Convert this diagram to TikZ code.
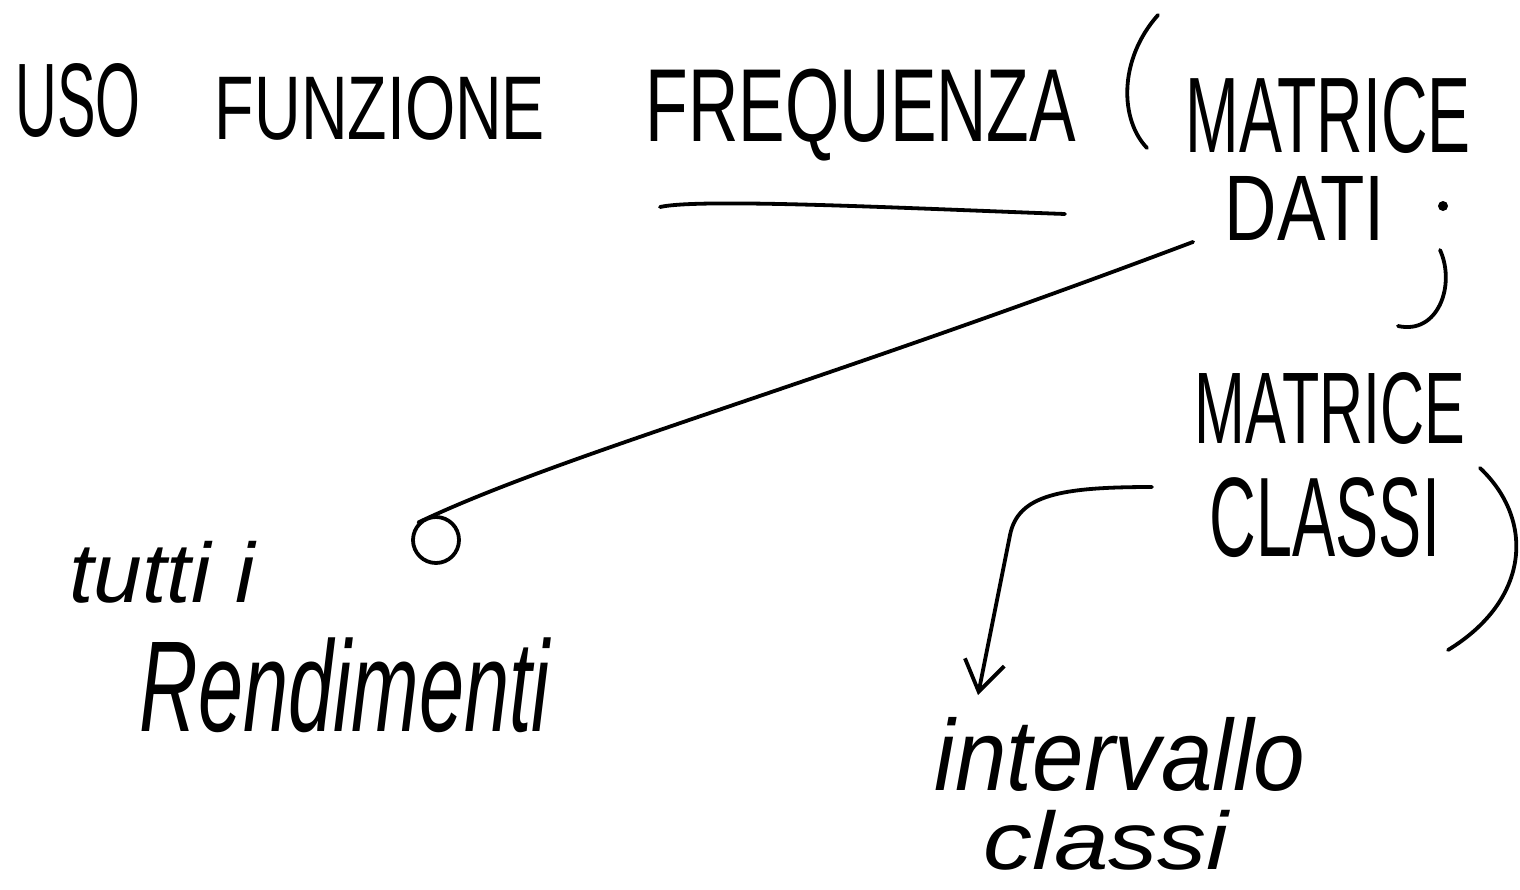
\documentclass[tikz,border=0pt]{standalone}
\usepackage{fontspec}
\setmainfont{Liberation Sans}
\usepackage{graphicx}
\usetikzlibrary{arrows.meta}
\newcommand{\mano}[3]{\resizebox*{#1}{#2}{#3}}

\begin{document}
\begin{tikzpicture}[line width=3.8pt, line cap=round, line join=round,
    every node/.style={inner sep=0pt}]
    \useasboundingbox (0pt,0pt) rectangle (1520pt,-889pt);
    \node (uso) at (78pt,-101pt) {\mano{125pt}{74pt}{USO}};
    \node (funzione) at (380pt,-108pt) {\mano{330pt}{64pt}{FUNZIONE}};
    \node (frequenza) at (861pt,-115pt) {\mano{430pt}{92pt}{FREQUENZA}};
    \draw (1158pt,-15pt) .. controls (1118pt,-60pt) and (1120pt,-120pt) .. (1147pt,-148pt);
    \node (matrice) at (1328pt,-116pt) {\mano{285pt}{76pt}{MATRICE}};
    \draw (660pt,-207pt) .. controls (700pt,-198pt) and (900pt,-208pt) .. (1065pt,-214pt);
    \node (dati) at (1305pt,-208pt) {\mano{160pt}{64pt}{DATI}};
    \fill (1443pt,-206pt) circle (5pt);
    \draw (1440pt,-250pt) .. controls (1456pt,-285pt) and (1438pt,-335pt) .. (1398pt,-326pt);
    \node (matrice2) at (1330pt,-408pt) {\mano{270pt}{72pt}{MATRICE}};
    \node (classi) at (1325pt,-518pt) {\mano{230pt}{80pt}{CLASSI}};
    \draw (1480pt,-468pt) .. controls (1535pt,-520pt) and (1530pt,-600pt) .. (1448pt,-650pt);
    \node[draw, circle, minimum size=46pt] (punta) at (436pt,-540pt) {};
    \draw ([xshift=-30pt]dati.south west) .. controls (800pt,-390pt) and (560pt,-455pt) .. (punta.north west);
    \node (tutti) at (162pt,-572pt) {\mano{185pt}{62pt}{\itshape tutti i}};
    \node (rendimenti) at (345pt,-685pt) {\mano{410pt}{95pt}{\itshape Rendimenti}};
    \coordinate (inizio) at (1152pt,-487pt);
    \draw[-{Straight Barb[length=30pt,width=40pt]}] (inizio) .. controls (1060pt,-487pt) and (1018pt,-495pt) .. (1010pt,-535pt) -- (978pt,-695pt);
    \node (intervallo) at (1120pt,-754pt) {\mano{370pt}{74pt}{\itshape intervallo}};
    \node (classi2) at (1106pt,-840pt) {\mano{245pt}{60pt}{\itshape classi}};
\end{tikzpicture}
\end{document}
